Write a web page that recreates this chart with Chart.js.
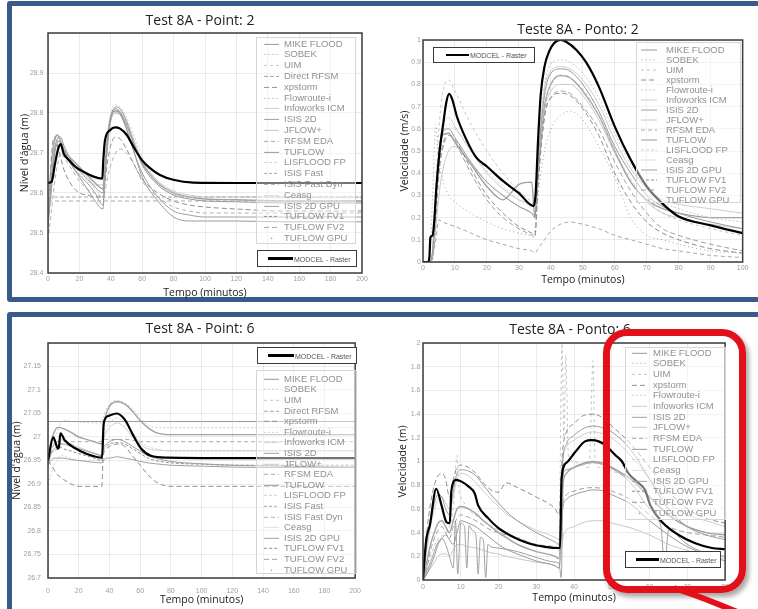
<!DOCTYPE html>
<html>
<head>
<meta charset="utf-8">
<script src="https://cdn.jsdelivr.net/npm/chart.js@4.4.0/dist/chart.umd.min.js"></script>
<style>
  html, body { margin: 0; padding: 0; background: #fff; }
  body { position: relative; width: 758px; height: 609px; overflow: hidden; font-family: "Liberation Sans", Arial, sans-serif; }
  .frame { position: absolute; box-sizing: border-box; border: 5px solid #3b5a8c; border-radius: 3px; }
  canvas { position: absolute; }
  .ttl { position: absolute; transform: translate(-50%, -50%); font: 14px "Open Sans", sans-serif; color: #222; white-space: nowrap; }
  .lg { position: absolute; box-sizing: border-box; border: 1px solid #d6d6d6; background: rgba(255,255,255,0.45); }
  .lg .row { position: absolute; left: 0; right: 0; font-size: 9.5px; color: #919191; white-space: nowrap; }
  .lg .row span { position: absolute; }
  .lg svg { position: absolute; top: 0; }
  .mod { position: absolute; box-sizing: border-box; border: 1.5px solid #3a3a3a; background: #fff; }
  .mod i { position: absolute; height: 2.5px; background: #000; top: 50%; margin-top: -1.25px; }
  .mod span { position: absolute; font-size: 7px; color: #555; top: 50%; transform: translateY(-50%); white-space: nowrap; }
  .hl { position: absolute; left: 603px; top: 329px; width: 143px; height: 264px; box-sizing: border-box;
        border: 7px solid #e3101a; border-radius: 24px; box-shadow: 3px 4px 5px rgba(0,0,0,0.35); }
  .tail { position: absolute; left: 0; top: 0; }
</style>
</head>
<body>
<div class="frame" style="left:7px;top:1px;width:800px;height:301px;"></div>
<div class="frame" style="left:7px;top:312px;width:800px;height:302px;"></div>

<canvas id="cTL"></canvas>
<canvas id="cTR"></canvas>
<canvas id="cBL"></canvas>
<canvas id="cBR"></canvas>

<div class="ttl" style="left:200px;top:19px;">Test 8A - Point: 2</div>
<div class="ttl" style="left:578px;top:28px;">Teste 8A - Ponto: 2</div>
<div class="ttl" style="left:200px;top:327px;">Test 8A - Point: 6</div>
<div class="ttl" style="left:570px;top:328px;">Teste 8A - Ponto: 6</div>

<div id="legends"></div>
<div class="hl"></div>
<svg class="tail" width="758" height="609"><path d="M674 588 Q702 597 742 614" stroke="#e3101a" stroke-width="6" fill="none"/></svg>

<script>
// ---- data: Test 8A, point 2, water level (m) ----
const tlModcelT = [0,2.3,4.5,6.6,8.1,9.9,13.1,17.3,22.6,29,34.6,35.2,36.3,39.5,42.7,45.9,50.2,54.4,59.7,65,71.3,79.8,92.5,120,200];
const tlModcel  = [28.625,28.628,28.674,28.712,28.722,28.699,28.683,28.666,28.653,28.641,28.636,28.68,28.732,28.757,28.764,28.761,28.745,28.716,28.683,28.662,28.645,28.633,28.626,28.625,28.625];
const tlT = [0,2,4,6,8,10,15,20,25,30,35,36,38,40,43,46,50,55,60,70,80,90,100,120,150,200];
const tlMike   = [28.53,28.62,28.70,28.735,28.74,28.72,28.68,28.655,28.635,28.615,28.60,28.64,28.74,28.79,28.815,28.81,28.78,28.72,28.67,28.62,28.595,28.585,28.58,28.578,28.575,28.575];
const tlSobek  = [28.55,28.64,28.72,28.74,28.735,28.715,28.68,28.65,28.63,28.61,28.59,28.64,28.75,28.80,28.82,28.815,28.79,28.74,28.69,28.63,28.60,28.59,28.59,28.59,28.588,28.588];
const tlDirect = [28.59,28.59,28.59,28.59,28.59,28.59,28.59,28.59,28.59,28.59,28.59,28.59,28.59,28.59,28.59,28.59,28.59,28.59,28.59,28.59,28.59,28.59,28.59,28.59,28.59,28.59];
const tlRfsm   = [28.58,28.58,28.58,28.58,28.58,28.58,28.58,28.58,28.58,28.58,28.58,28.58,28.58,28.58,28.58,28.58,28.58,28.58,28.58,28.58,28.58,28.58,28.58,28.58,28.58,28.58];
const tlTuflow = [28.52,28.60,28.69,28.725,28.73,28.71,28.67,28.64,28.61,28.58,28.56,28.62,28.73,28.79,28.81,28.80,28.76,28.70,28.64,28.58,28.54,28.53,28.53,28.53,28.528,28.528];
const tlXp     = [28.5,28.68,28.74,28.72,28.69,28.66,28.62,28.60,28.595,28.59,28.59,28.62,28.68,28.72,28.74,28.735,28.71,28.67,28.635,28.60,28.58,28.57,28.565,28.56,28.555,28.555];
const tlFastDyn= [28.48,28.55,28.62,28.67,28.70,28.69,28.66,28.63,28.61,28.60,28.59,28.60,28.64,28.67,28.70,28.71,28.70,28.67,28.63,28.59,28.565,28.555,28.55,28.55,28.55,28.55];
const tlIsis   = [28.56,28.66,28.73,28.745,28.73,28.71,28.685,28.665,28.645,28.625,28.61,28.65,28.74,28.79,28.805,28.80,28.77,28.72,28.675,28.625,28.60,28.59,28.585,28.583,28.58,28.58];
const tlIsisGpu= [28.54,28.63,28.71,28.73,28.725,28.705,28.67,28.645,28.625,28.60,28.57,28.62,28.72,28.78,28.80,28.795,28.76,28.70,28.65,28.59,28.555,28.545,28.54,28.54,28.54,28.54];
const tlInfo   = [28.57,28.66,28.73,28.74,28.73,28.71,28.68,28.66,28.64,28.62,28.62,28.66,28.75,28.79,28.81,28.805,28.78,28.73,28.68,28.63,28.605,28.595,28.59,28.59,28.59,28.59];

// ---- data: Teste 8A, ponto 2, velocity (m/s) ----
const trModcelT = [0,1.5,2,2.3,3,3.5,4.2,5.2,6.3,7.3,8.2,9.2,10.5,13.6,16.7,20,25,30,34.6,35.2,36,36.8,38,39.5,41,43,45,48,51,55,60,65,70,75,80,90,100];
const trModcel  = [0,0,0.02,0.11,0.12,0.18,0.34,0.5,0.62,0.72,0.757,0.73,0.66,0.55,0.47,0.43,0.365,0.31,0.252,0.3,0.55,0.75,0.88,0.95,0.985,1.0,0.99,0.955,0.9,0.79,0.61,0.46,0.34,0.262,0.205,0.165,0.13];
const trT = [0,2,3,4,5,6,8,10,15,20,25,30,34,35,36,38,40,43,46,50,55,60,65,70,75,80,90,100];
const trMike   = [0,0,0.05,0.3,0.5,0.58,0.6,0.56,0.45,0.36,0.3,0.25,0.22,0.2,0.45,0.75,0.85,0.87,0.86,0.8,0.68,0.52,0.4,0.3,0.25,0.22,0.18,0.15];
const trSobek  = [0,0,0.03,0.25,0.45,0.56,0.62,0.6,0.5,0.41,0.34,0.28,0.25,0.24,0.5,0.8,0.89,0.91,0.9,0.85,0.74,0.58,0.44,0.33,0.27,0.24,0.2,0.18];
const trUim    = [0,0,0.05,0.35,0.6,0.75,0.82,0.77,0.62,0.5,0.4,0.32,0.27,0.25,0.45,0.7,0.8,0.84,0.83,0.78,0.66,0.5,0.37,0.28,0.22,0.19,0.15,0.12];
const trXp     = [0,0,0.02,0.2,0.4,0.5,0.57,0.55,0.42,0.3,0.22,0.16,0.13,0.12,0.35,0.65,0.74,0.76,0.75,0.69,0.57,0.4,0.27,0.18,0.13,0.1,0.06,0.04];
const trRfsm   = [0,0,0.02,0.1,0.19,0.18,0.17,0.16,0.13,0.1,0.08,0.06,0.05,0.04,0.06,0.1,0.14,0.17,0.18,0.17,0.15,0.12,0.1,0.08,0.06,0.05,0.03,0.02];
const trIsis   = [0,0,0.04,0.28,0.48,0.57,0.58,0.54,0.44,0.34,0.28,0.35,0.36,0.2,0.4,0.7,0.8,0.84,0.83,0.77,0.66,0.5,0.36,0.28,0.24,0.22,0.2,0.2];
const trGpu    = [0,0,0.3,0.62,0.45,0.38,0.3,0.27,0.22,0.18,0.15,0.13,0.12,0.15,0.3,0.5,0.6,0.66,0.68,0.64,0.52,0.38,0.2,0.12,0.1,0.08,0.05,0.04];
const trFv2    = [0,0,0.03,0.22,0.42,0.52,0.58,0.54,0.4,0.28,0.2,0.15,0.12,0.11,0.35,0.66,0.74,0.77,0.76,0.7,0.6,0.45,0.32,0.22,0.15,0.12,0.08,0.05];
const trInfo   = [0,0,0.03,0.25,0.5,0.6,0.65,0.61,0.5,0.4,0.33,0.28,0.26,0.25,0.48,0.78,0.86,0.88,0.87,0.82,0.71,0.55,0.42,0.33,0.28,0.26,0.24,0.22];
const trJflow  = [0,0,0.02,0.15,0.3,0.4,0.5,0.52,0.44,0.36,0.3,0.25,0.22,0.21,0.4,0.68,0.77,0.8,0.8,0.75,0.64,0.49,0.36,0.27,0.22,0.2,0.17,0.15];

// ---- data: Test 8A, point 6, water level (m) ----
const blModcelT = [0,3.4,6.6,7.2,8.1,10.9,18.3,24.6,35.2,36.3,39.5,44.8,50,55.4,60.7,67,77.7,120,200];
const blModcel  = [26.95,26.999,26.975,26.98,27.008,26.993,26.975,26.965,26.956,27.03,27.045,27.05,27.037,27.004,26.975,26.96,26.956,26.955,26.955];
const blT = [0,2,4,6,8,10,15,20,25,30,35,36,38,40,45,50,55,60,65,70,80,100,120,150,200];
const blFlat   = [27.033,27.033,27.033,27.033,27.033,27.033,27.033,27.033,27.033,27.033,27.033,27.033,27.033,27.033,27.033,27.033,27.033,27.033,27.033,27.033,27.033,27.033,27.033,27.033,27.033];
const blIsis   = [26.95,26.99,27.01,27.02,27.02,27.018,27.01,27.0,26.995,26.99,26.985,27.02,27.05,27.065,27.075,27.07,27.055,27.035,27.02,27.01,27.005,27.005,27.005,27.005,27.005];
const blSobek  = [26.95,26.98,27.0,27.01,27.03,27.035,27.033,27.032,27.031,27.03,27.03,27.04,27.06,27.07,27.078,27.072,27.06,27.04,27.025,27.02,27.02,27.02,27.02,27.02,27.02];
const blTuflow = [26.94,26.965,26.975,26.98,26.985,26.985,26.98,26.975,26.97,26.965,26.96,26.975,26.985,26.99,26.995,26.99,26.98,26.97,26.96,26.955,26.948,26.943,26.94,26.938,26.936];
const blRfsm   = [26.95,26.97,26.985,26.99,26.99,26.99,26.99,26.99,26.99,26.99,26.99,26.995,26.995,26.995,26.995,26.995,26.993,26.99,26.99,26.99,26.99,26.99,26.99,26.99,26.99];
const blXp     = [26.95,26.94,26.93,26.92,26.915,26.91,26.9,26.895,26.895,26.895,26.895,26.96,26.975,26.98,26.985,26.98,26.96,26.94,26.92,26.905,26.895,26.895,26.895,26.895,26.895];
const blIsisGpu= [26.94,26.95,26.955,26.955,26.955,26.955,26.952,26.95,26.948,26.946,26.945,26.95,26.955,26.955,26.958,26.955,26.952,26.948,26.945,26.943,26.94,26.938,26.936,26.935,26.935];
const blInfo   = [26.95,26.975,26.985,26.99,26.995,26.993,26.985,26.978,26.972,26.966,26.962,26.99,27.01,27.02,27.03,27.02,27.0,26.985,26.975,26.972,26.971,26.971,26.971,26.971,26.971];
const blFv1    = [26.945,26.965,26.97,26.975,26.978,26.975,26.97,26.965,26.96,26.955,26.95,26.97,26.98,26.985,26.988,26.985,26.975,26.965,26.955,26.95,26.945,26.942,26.94,26.94,26.94];
const blFlow   = [26.9,26.92,26.94,26.95,26.96,26.96,26.955,26.95,26.95,26.95,26.95,27.0,27.02,27.03,27.04,27.03,27.01,26.99,26.98,26.975,26.97,26.97,26.97,26.97,26.97];

// ---- data: Teste 8A, ponto 6, velocity (m) ----
const brModcelT = [0,0.4,0.9,1.8,3.5,4.9,6.2,7.1,7.5,8.8,10.2,12,13.7,14.6,17.3,19.9,23.5,27.9,32.3,36.3,36.7,38,40.3,42.9,44.7,46.5,48.2,50,50.9,52.7,54.4,57,58.8,60.2,63.3,67.7,72.1,76.5,80];
const brModcel  = [0,0.18,0.35,0.46,0.77,0.63,0.49,0.48,0.75,0.845,0.83,0.79,0.73,0.63,0.52,0.44,0.37,0.31,0.28,0.27,0.86,0.99,1.08,1.17,1.18,1.17,1.14,1.085,1.055,1.0,0.9,0.82,0.76,0.63,0.49,0.38,0.31,0.27,0.26];
const brT = [0,1,2,3,4,5,6,7,8,9,10,12,14,16,18,20,22,25,30,35,36,37,38,40,42,45,48,50,55,60,65,70,75,80];
const brMike   = [0,0.3,0.5,0.65,0.72,0.7,0.6,0.55,0.75,0.9,0.93,0.92,0.88,0.8,0.72,0.65,0.58,0.5,0.4,0.32,0.3,1.0,1.15,1.22,1.27,1.3,1.28,1.25,1.1,0.85,0.6,0.45,0.38,0.34];
const brXp     = [0,0.4,0.65,0.8,0.88,0.9,0.85,0.7,0.85,0.95,0.97,0.95,0.9,0.82,0.76,0.74,0.82,0.78,0.7,0.6,0.55,1.1,1.25,1.32,1.38,1.4,1.36,1.3,1.15,0.95,0.75,0.6,0.52,0.48];
const brIsis   = [0,0.15,0.3,0.4,0.48,0.5,0.45,0.4,0.5,0.6,0.62,0.6,0.56,0.5,0.45,0.4,0.36,0.3,0.24,0.2,0.18,0.8,0.9,0.95,0.98,1.0,0.98,0.95,0.85,0.7,0.55,0.45,0.4,0.38];
const brTuflow = [0,0.05,0.12,0.2,0.3,0.35,0.38,0.34,0.3,0.4,0.5,0.48,0.45,0.4,0.35,0.3,0.26,0.22,0.16,0.12,0.1,0.6,0.68,0.72,0.74,0.76,0.75,0.72,0.64,0.5,0.38,0.28,0.22,0.2];
const brFv2    = [0,0.1,0.25,0.35,0.42,0.45,0.4,0.35,0.45,0.52,0.55,0.53,0.5,0.46,0.42,0.4,0.38,0.35,0.3,0.28,0.27,0.65,0.72,0.75,0.77,0.78,0.77,0.75,0.68,0.55,0.45,0.4,0.38,0.36];
const brInfo   = [0,0.25,0.45,0.6,0.68,0.7,0.65,0.6,0.7,0.85,0.9,0.88,0.82,0.75,0.68,0.62,0.56,0.5,0.42,0.36,0.34,1.0,1.12,1.18,1.22,1.25,1.23,1.2,1.05,0.85,0.65,0.55,0.5,0.45];
const brJflow  = [0,0.05,0.1,0.15,0.2,0.22,0.22,0.2,0.25,0.3,0.3,0.28,0.27,0.25,0.23,0.22,0.2,0.18,0.15,0.12,0.1,0.35,0.42,0.45,0.48,0.5,0.5,0.48,0.44,0.38,0.3,0.25,0.2,0.18];
// the two spiky series keep their own time steps
const brGpuT   = [0,2,4,5,6,7,8,8.6,9.2,10,11,11.6,12.2,13,14,14.6,15.2,16,16.6,17.2,18,20,25,30,35,36,36.6,37.2,38,40,45,50,55,60,63,64,65,70,75,80];
const brGpu    = [0,0.15,0.32,0.35,0.3,0.2,0.1,0.5,0.05,0.48,0.45,0.1,0.46,0.42,0.38,0.05,0.36,0.33,0.02,0.3,0.28,0.27,0.24,0.19,0.15,0.14,0.02,0.9,0.93,0.95,0.99,0.94,0.82,0.6,0.45,0.1,0.42,0.3,0.22,0.16];
const brUimT   = [0,2,4,6,8,9,9.5,10,12,16,20,25,30,35,36,36.8,37.3,37.8,38.5,40,44,45,45.6,46.5,50,55,60,65,70,75,80];
const brUim    = [0,0.2,0.35,0.4,0.6,1.05,0.75,0.7,0.6,0.5,0.42,0.36,0.3,0.26,0.25,2.0,1.2,1.9,1.05,1.0,0.95,1.85,1.0,0.95,0.92,0.85,0.7,0.55,0.45,0.4,0.36];

// legend entries
const levelModels = ['MIKE FLOOD','SOBEK','UIM','Direct RFSM','xpstorm','Flowroute-i','Infoworks ICM','ISIS 2D','JFLOW+','RFSM EDA','TUFLOW','LISFLOOD FP','ISIS Fast','ISIS Fast Dyn','Ceasg','ISIS 2D GPU','TUFLOW FV1','TUFLOW FV2','TUFLOW GPU'];
const velModels   = ['MIKE FLOOD','SOBEK','UIM','xpstorm','Flowroute-i','Infoworks ICM','ISIS 2D','JFLOW+','RFSM EDA','TUFLOW','LISFLOOD FP','Ceasg','ISIS 2D GPU','TUFLOW FV1','TUFLOW FV2','TUFLOW GPU'];

// line look of each model
const styles = {
  'MIKE FLOOD':   { c: '#9a9a9a', d: [] },
  'SOBEK':        { c: '#cdcdcd', d: [2, 2] },
  'UIM':          { c: '#c6c6c6', d: [3, 3] },
  'Direct RFSM':  { c: '#a6a6a6', d: [4, 2] },
  'xpstorm':      { c: '#8e8e8e', d: [5, 3] },
  'Flowroute-i':  { c: '#cfcfcf', d: [2, 2] },
  'Infoworks ICM':{ c: '#cdcdcd', d: [] },
  'ISIS 2D':      { c: '#a2a2a2', d: [], w: 1.4 },
  'JFLOW+':       { c: '#c8c8c8', d: [] },
  'RFSM EDA':     { c: '#a8a8a8', d: [4, 3] },
  'TUFLOW':       { c: '#9a9a9a', d: [] },
  'LISFLOOD FP':  { c: '#d0d0d0', d: [3, 2] },
  'ISIS Fast':    { c: '#a8a8a8', d: [3, 2] },
  'ISIS Fast Dyn':{ c: '#b0b0b0', d: [4, 3] },
  'Ceasg':        { c: '#dedede', d: [] },
  'ISIS 2D GPU':  { c: '#a0a0a0', d: [] },
  'TUFLOW FV1':   { c: '#909090', d: [3, 2] },
  'TUFLOW FV2':   { c: '#a0a0a0', d: [5, 3] },
  'TUFLOW GPU':   { c: '#a0a0a0', d: [1, 3] }
};

const pts = (t, v) => t.map((x, i) => ({ x, y: v[i] }));
function grey(name, t, v) {
  const s = styles[name];
  return { label: name, data: pts(t, v), borderColor: s.c, borderDash: s.d, borderWidth: s.w || 1, order: 1 };
}
function modcel(t, v) {
  return { label: 'MODCEL - Raster', data: pts(t, v), borderColor: '#000', borderWidth: 2.2, order: 0 };
}

const framePlugin = {
  id: 'frame',
  afterDatasetsDraw(chart) {
    const a = chart.chartArea, c = chart.ctx;
    c.save();
    c.strokeStyle = '#3d3d3d';
    c.lineWidth = 1.5;
    c.strokeRect(a.left, a.top, a.right - a.left, a.bottom - a.top);
    c.restore();
  }
};

const tickFont = { family: 'Liberation Sans', size: 7 };
const axFont = { family: 'Open Sans', size: 10.5 };
const gridC = 'rgba(0,0,0,0.08)';

function makeChart(id, box, ax, datasets) {
  const cv = document.getElementById(id);
  cv.width = box.w; cv.height = box.h;
  cv.style.left = box.l + 'px'; cv.style.top = box.t + 'px';
  return new Chart(cv, {
    type: 'line',
    data: { datasets },
    options: {
      responsive: false, animation: false, events: [],
      layout: { padding: { top: box.pt, right: box.pr, left: 0, bottom: 0 } },
      plugins: { legend: { display: false }, title: { display: false }, tooltip: { enabled: false } },
      elements: { point: { radius: 0 }, line: { cubicInterpolationMode: 'monotone' } },
      scales: {
        x: {
          type: 'linear', min: 0, max: ax.xMax,
          ticks: { stepSize: ax.xStep, padding: box.xtp, color: '#a0a0a0', font: tickFont, maxRotation: 0, autoSkip: false },
          grid: { color: gridC, drawTicks: false },
          border: { display: false },
          title: { display: true, text: 'Tempo (minutos)', font: axFont, color: '#222', padding: { top: 0, bottom: 0 } },
          afterFit: s => { s.height = box.xH; }
        },
        y: {
          type: 'linear', min: ax.yMin, max: ax.yMax,
          ticks: {
            stepSize: ax.yStep, padding: box.ytp, color: '#a0a0a0', font: tickFont, autoSkip: false,
            callback: v => (ax.hideTop && Math.abs(v - ax.yMax) < 1e-9) ? '' : String(+v.toFixed(2))
          },
          grid: { color: gridC, drawTicks: false },
          border: { display: false },
          title: { display: true, text: ax.yTitle, font: axFont, color: '#222', padding: { top: box.ytt, bottom: 0 } },
          afterFit: s => { s.width = box.yW; }
        }
      }
    },
    plugins: [framePlugin]
  });
}

makeChart('cTL',
  { l: 10, t: 8, w: 360, h: 291, pt: 25, pr: 8, yW: 38, xH: 26, xtp: 2, ytp: 4.5, ytt: 8.7 },
  { xMax: 200, xStep: 20, yMin: 28.4, yMax: 29.0, yStep: 0.1, hideTop: true, yTitle: 'Nível d\'água (m)' },
  [modcel(tlModcelT, tlModcel),
   grey('MIKE FLOOD', tlT, tlMike), grey('SOBEK', tlT, tlSobek), grey('Direct RFSM', tlT, tlDirect),
   grey('RFSM EDA', tlT, tlRfsm), grey('TUFLOW', tlT, tlTuflow), grey('xpstorm', tlT, tlXp),
   grey('ISIS Fast Dyn', tlT, tlFastDyn), grey('ISIS 2D', tlT, tlIsis), grey('ISIS 2D GPU', tlT, tlIsisGpu),
   grey('Infoworks ICM', tlT, tlInfo)]);

makeChart('cTR',
  { l: 390, t: 8, w: 360, h: 278, pt: 32, pr: 5, yW: 33, xH: 24, xtp: 1.5, ytp: 2, ytt: 8.7 },
  { xMax: 100, xStep: 10, yMin: 0, yMax: 1, yStep: 0.1, hideTop: false, yTitle: 'Velocidade (m/s)' },
  [modcel(trModcelT, trModcel),
   grey('MIKE FLOOD', trT, trMike), grey('SOBEK', trT, trSobek), grey('UIM', trT, trUim),
   grey('xpstorm', trT, trXp), grey('RFSM EDA', trT, trRfsm), grey('ISIS 2D', trT, trIsis),
   grey('TUFLOW GPU', trT, trGpu), grey('TUFLOW FV2', trT, trFv2), grey('Infoworks ICM', trT, trInfo),
   grey('JFLOW+', trT, trJflow)]);

makeChart('cBL',
  { l: 5, t: 315, w: 365, h: 291, pt: 28, pr: 8, yW: 43, xH: 28, xtp: 9, ytp: 7, ytt: 5.7 },
  { xMax: 200, xStep: 20, yMin: 26.7, yMax: 27.2, yStep: 0.05, hideTop: true, yTitle: 'Nível d\'água (m)' },
  [modcel(blModcelT, blModcel),
   grey('MIKE FLOOD', blT, blFlat), grey('ISIS 2D', blT, blIsis), grey('SOBEK', blT, blSobek),
   grey('TUFLOW', blT, blTuflow), grey('RFSM EDA', blT, blRfsm), grey('xpstorm', blT, blXp),
   grey('ISIS 2D GPU', blT, blIsisGpu), grey('Infoworks ICM', blT, blInfo), grey('TUFLOW FV1', blT, blFv1),
   grey('Flowroute-i', blT, blFlow)]);

makeChart('cBR',
  { l: 390, t: 315, w: 342, h: 289, pt: 28, pr: 5, yW: 33, xH: 24, xtp: 3, ytp: 2.5, ytt: 6.7 },
  { xMax: 80, xStep: 10, yMin: 0, yMax: 2, yStep: 0.2, hideTop: false, yTitle: 'Velocidade (m)' },
  [modcel(brModcelT, brModcel),
   grey('MIKE FLOOD', brT, brMike), grey('xpstorm', brT, brXp), grey('ISIS 2D', brT, brIsis),
   grey('TUFLOW', brT, brTuflow), grey('ISIS 2D GPU', brGpuT, brGpu), grey('TUFLOW FV2', brT, brFv2),
   grey('Infoworks ICM', brT, brInfo), grey('UIM', brUimT, brUim), grey('JFLOW+', brT, brJflow)]);

// HTML legends laid over the plots
const host = document.getElementById('legends');
function bigLegend(sp, names) {
  const d = document.createElement('div');
  d.className = 'lg';
  Object.assign(d.style, { left: sp.l + 'px', top: sp.t + 'px', width: sp.w + 'px', height: sp.h + 'px' });
  names.forEach((n, i) => {
    const s = styles[n];
    const r = document.createElement('div');
    r.className = 'row';
    const top = sp.first - sp.rh / 2 + i * sp.rh - 1;
    Object.assign(r.style, { top: top + 'px', height: sp.rh + 'px', lineHeight: sp.rh + 'px' });
    const mid = sp.rh / 2;
    const mark = n === 'TUFLOW GPU'
      ? `<circle cx="${sp.sw / 2}" cy="${mid}" r="0.8" fill="${s.c}"/>`
      : `<line x1="0" y1="${mid}" x2="${sp.sw}" y2="${mid}" stroke="${s.c}" stroke-width="1" stroke-dasharray="${s.d.join(' ')}"/>`;
    r.innerHTML = `<svg width="${sp.sw}" height="${sp.rh}" style="left:${sp.sx}px">${mark}</svg><span style="left:${sp.tx}px">${n}</span>`;
    d.appendChild(r);
  });
  host.appendChild(d);
}
function modLegend(sp) {
  const d = document.createElement('div');
  d.className = 'mod';
  Object.assign(d.style, { left: sp.l + 'px', top: sp.t + 'px', width: sp.w + 'px', height: sp.h + 'px' });
  d.innerHTML = `<i style="left:${sp.a}px;width:${sp.b - sp.a}px"></i><span style="left:${sp.b + 1}px">MODCEL - Raster</span>`;
  host.appendChild(d);
}

bigLegend({ l: 256, t: 37, w: 100, h: 207, rh: 10.8, first: 7, sx: 7, sw: 15, tx: 27 }, levelModels);
bigLegend({ l: 636, t: 42, w: 105, h: 161, rh: 10, first: 8, sx: 4, sw: 16, tx: 29 }, velModels);
bigLegend({ l: 256, t: 370, w: 101, h: 204, rh: 10.6, first: 9, sx: 7, sw: 15, tx: 27 }, levelModels);
bigLegend({ l: 625, t: 347, w: 101, h: 173, rh: 10.67, first: 6, sx: 6, sw: 15, tx: 27 }, velModels);

modLegend({ l: 257, t: 250, w: 100, h: 17, a: 10, b: 35 });
modLegend({ l: 433, t: 47, w: 102, h: 16, a: 12, b: 35 });
modLegend({ l: 257, t: 347, w: 100, h: 17, a: 10, b: 36 });
modLegend({ l: 625, t: 551, w: 96, h: 17, a: 10, b: 33 });
</script>
</body>
</html>
